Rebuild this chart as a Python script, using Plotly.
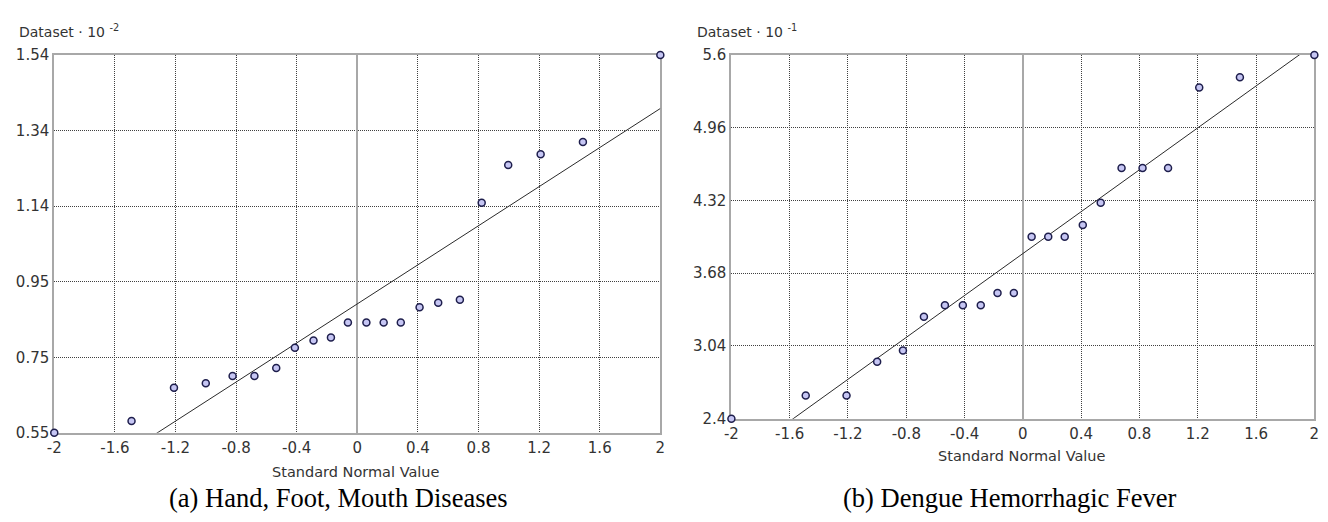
import plotly.graph_objects as go

W, H = 1328, 522

# Standard normal quantiles (shared by both Q-Q plots)
quantiles = [-2.0, -1.49, -1.21, -1.0, -0.823, -0.679, -0.535, -0.412, -0.289, -0.174, -0.062,
             0.06, 0.174, 0.287, 0.411, 0.534, 0.677, 0.821, 0.996, 1.21, 1.489, 2.0]

# (a) Hand, Foot, Mouth Diseases  (Dataset * 10^-2)
hfmd_values = [0.55, 0.581, 0.668, 0.680, 0.699, 0.699, 0.720, 0.773, 0.792, 0.800, 0.839,
               0.839, 0.839, 0.839, 0.879, 0.891, 0.899, 1.153, 1.252, 1.280, 1.312, 1.54]
hfmd_intercept = 0.888
hfmd_slope = 0.256
hfmd_yticks = [0.55, 0.748, 0.946, 1.144, 1.342, 1.54]
hfmd_yticktext = ["0.55", "0.75", "0.95", "1.14", "1.34", "1.54"]

# (b) Dengue Hemorrhagic Fever  (Dataset * 10^-1)
dhf_values = [2.4, 2.604, 2.604, 2.901, 3.0, 3.297, 3.399, 3.399, 3.399, 3.505, 3.505,
              4.002, 4.002, 4.002, 4.104, 4.30, 4.606, 4.606, 4.606, 5.314, 5.404, 5.6]
dhf_intercept = 3.853
dhf_slope = 0.922
dhf_yticks = [2.4, 3.04, 3.68, 4.32, 4.96, 5.6]
dhf_yticktext = ["2.4", "3.04", "3.68", "4.32", "4.96", "5.6"]

x_ticks = [-2, -1.6, -1.2, -0.8, -0.4, 0, 0.4, 0.8, 1.2, 1.6, 2]
x_ticktext = ["-2", "-1.6", "-1.2", "-0.8", "-0.4", "0", "0.4", "0.8", "1.2", "1.6", "2"]

x_title = "Standard Normal Value"
captions = ["(a) Hand, Foot, Mouth Diseases", "(b) Dengue Hemorrhagic Fever"]
y_titles = ["Dataset · 10 <sup>-2</sup>", "Dataset · 10 <sup>-1</sup>"]


def px_x(p):
    return p / W


def px_y(p):
    return 1 - p / H


TICK_COLOR = "#333333"
FONT = "DejaVu Sans"

fig = go.Figure()

line_x = [min(quantiles), max(quantiles)]
panels = [
    ("x", "y", hfmd_values, hfmd_intercept, hfmd_slope),
    ("x2", "y2", dhf_values, dhf_intercept, dhf_slope),
]
for xa, ya, vals, b0, b1 in panels:
    fig.add_trace(go.Scatter(
        x=line_x, y=[b0 + b1 * v for v in line_x], mode="lines",
        line=dict(color="#2a2a2a", width=1), xaxis=xa, yaxis=ya,
        showlegend=False, hoverinfo="skip"))
    fig.add_trace(go.Scatter(
        x=quantiles, y=vals, mode="markers", cliponaxis=False,
        marker=dict(size=7, color="#c6c6f4", line=dict(color="#1e1e4c", width=1.5)),
        xaxis=xa, yaxis=ya, showlegend=False))

axis_common = dict(
    showgrid=True, gridcolor="#404040", griddash="1px,1px", gridwidth=1,
    showline=True, linecolor="#a8a8a8", linewidth=2, mirror=True,
    ticks="", tickfont=dict(family=FONT, size=15, color=TICK_COLOR),
    layer="below traces", fixedrange=True,
)

xdom_a = [px_x(47.7), px_x(659.3)]
xdom_b = [px_x(731), px_x(1319.3)]
ydom_a = [px_y(439), px_y(47.7)]
ydom_b = [px_y(424.3), px_y(47.7)]

fig.update_layout(
    width=W, height=H, autosize=False,
    margin=dict(l=0, r=0, t=0, b=0),
    paper_bgcolor="white", plot_bgcolor="white",
    xaxis=dict(domain=xdom_a, anchor="y", range=[-2, 2], tickvals=x_ticks, ticktext=x_ticktext,
               zeroline=True, zerolinecolor="#a8a8a8", zerolinewidth=2, **axis_common),
    yaxis=dict(domain=ydom_a, anchor="x", range=[hfmd_yticks[0], hfmd_yticks[-1]],
               tickvals=hfmd_yticks, ticktext=hfmd_yticktext, zeroline=False, **axis_common),
    xaxis2=dict(domain=xdom_b, anchor="y2", range=[-2, 2], tickvals=x_ticks, ticktext=x_ticktext,
                zeroline=True, zerolinecolor="#a8a8a8", zerolinewidth=2, **axis_common),
    yaxis2=dict(domain=ydom_b, anchor="x2", range=[dhf_yticks[0], dhf_yticks[-1]],
                tickvals=dhf_yticks, ticktext=dhf_yticktext, zeroline=False, **axis_common),
)

ann = []
# y titles
for xp, t in [(10, y_titles[0]), (694, y_titles[1])]:
    ann.append(dict(x=px_x(xp), y=px_y(34), xref="paper", yref="paper", xanchor="left",
                    yanchor="bottom", text=t, showarrow=False,
                    font=dict(family=FONT, size=14, color=TICK_COLOR)))
# x titles
for xp, yp in [(352, 480), (1024, 463)]:
    ann.append(dict(x=px_x(xp), y=px_y(yp), xref="paper", yref="paper", xanchor="center",
                    yanchor="middle", text=x_title, showarrow=False,
                    font=dict(family=FONT, size=14.5, color=TICK_COLOR)))
# captions
for xp, t in [(335, captions[0]), (1012, captions[1])]:
    ann.append(dict(x=px_x(xp), y=px_y(506), xref="paper", yref="paper", xanchor="center",
                    yanchor="middle", text=t, showarrow=False,
                    font=dict(family="Liberation Serif", size=26.5, color="black")))
fig.update_layout(annotations=ann)

fig.write_html(
    "out.html",
    config={"displayModeBar": False, "staticPlot": True},
    post_script="document.body.style.margin='0';document.body.style.overflow='hidden';",
)
